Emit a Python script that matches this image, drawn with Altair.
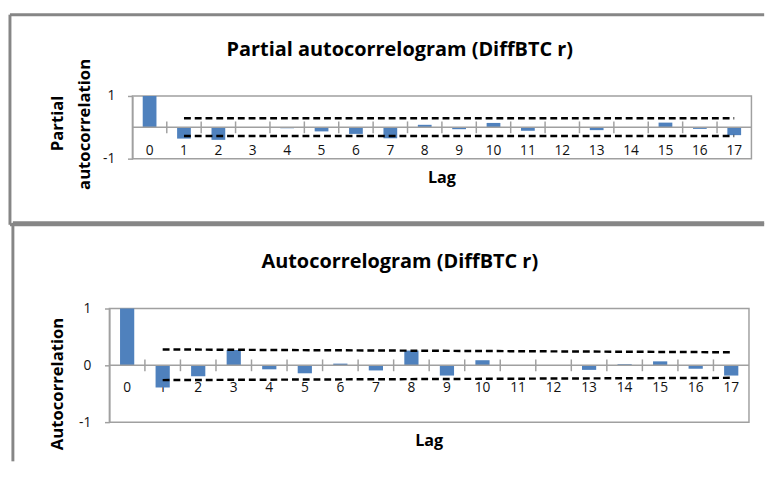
import altair as alt
import pandas as pd

# ---- data ----
lags = list(range(18))
pacf = [1.0, -0.36, -0.40, -0.01, -0.03, -0.13, -0.21, -0.35, 0.08, -0.06,
        0.14, -0.11, 0.0, -0.09, 0.005, 0.15, -0.05, -0.25]
acf = [1.0, -0.39, -0.19, 0.27, -0.07, -0.14, 0.03, -0.09, 0.26, -0.18,
       0.09, -0.005, 0.0, -0.08, 0.02, 0.07, -0.06, -0.18]
pacf_bound_lags = [1, 17]
pacf_upper = [0.29, 0.29]
pacf_lower = [-0.28, -0.28]
acf_bound_lags = [1, 17]
acf_upper = [0.28, 0.23]
acf_lower = [-0.26, -0.22]

top_title = "Partial autocorrelogram (DiffBTC r)"
top_ytitle = ["Partial", "autocorrelation"]
bottom_title = "Autocorrelogram (DiffBTC r)"
bottom_ytitle = ["Autocorrelation"]
x_title = "Lag"

FONT = "Open Sans"
BAR = "#4f81bd"
GRAY = "#a0a0a0"
FRAME = "#868686"


def one(text):
    return pd.DataFrame({"t": [text]})


def panel(values, b_lags, upper, lower, title, ytitles, ytitle_pos, W, H,
          x0, x1, yvals, x_offset, x_pad, y_pad, frame, title_x, lag_y):
    yscale = alt.Scale(domain=[-1, 1], nice=False, zero=True)
    xscale = alt.Scale(domain=lags, paddingInner=0, paddingOuter=0, range=[x0, x1])
    xaxis = alt.Axis(title="", orient="bottom", offset=x_offset, domain=False,
                     ticks=False, labelPadding=x_pad, labelAngle=0, labelFontSize=14,
                     labelFont=FONT, labelColor="#111", grid=False)
    yaxis = alt.Axis(title="", values=yvals, domain=True, domainColor=GRAY,
                     domainWidth=1.5, tickSize=5, tickColor=GRAY, tickWidth=1.5,
                     labelPadding=y_pad, grid=False, labelFontSize=14,
                     labelFont=FONT, labelColor="#111", offset=-x0,
                     labelExpr="'' + datum.value")
    X = alt.X("lag:O", scale=xscale, axis=xaxis)
    Y = alt.Y("value:Q", scale=yscale, axis=yaxis)

    # plot-area frame
    plot_frame = alt.Chart(one("p")).mark_rect(
        fillOpacity=0, stroke=GRAY, strokeWidth=1.5).encode(
        x=alt.value(x0), x2=alt.value(x1), y=alt.value(0), y2=alt.value(H))

    df = pd.DataFrame({"lag": lags, "value": values})
    bars = alt.Chart(df).mark_bar(color=BAR, width=alt.RelativeBandSize(0.4)).encode(x=X, y=Y)
    zero = alt.Chart(pd.DataFrame({"value": [0]})).mark_rule(
        color=GRAY, strokeWidth=1.5).encode(y=Y, x=alt.value(x0), x2=alt.value(x1))
    # category tick marks at the band boundaries, crossing the zero line
    ticks = alt.Chart(pd.DataFrame({"lag": lags[1:]})).mark_rule(
        color=GRAY, strokeWidth=1.5).encode(
        x=alt.X("lag:O", scale=xscale, axis=xaxis, bandPosition=0),
        y=alt.value(H / 2 - 6), y2=alt.value(H / 2 + 6))
    up = alt.Chart(pd.DataFrame({"lag": b_lags, "value": upper})).mark_line(
        color="black", strokeWidth=2.5, strokeDash=[7, 4]).encode(x=X, y=Y)
    lo = alt.Chart(pd.DataFrame({"lag": b_lags, "value": lower})).mark_line(
        color="black", strokeWidth=2.5, strokeDash=[7, 4]).encode(x=X, y=Y)

    layers = [plot_frame, bars, zero, ticks, up, lo]

    layers.append(alt.Chart(one(title)).mark_text(
        font=FONT, fontSize=20.3, fontWeight="bold", color="black",
        align="center", baseline="alphabetic").encode(
        text="t:N", x=alt.value(title_x), y=alt.value(-41)))
    for t, (px, py) in zip(ytitles, ytitle_pos):
        layers.append(alt.Chart(one(t)).mark_text(
            font=FONT, fontSize=17, fontWeight="bold", color="black", angle=270,
            align="center", baseline="middle").encode(
            text="t:N", x=alt.value(px), y=alt.value(py)))
    layers.append(alt.Chart(one(x_title)).mark_text(
        font=FONT, fontSize=16.5, fontWeight="bold", color="black",
        align="center", baseline="middle").encode(
        text="t:N", x=alt.value((x0 + x1) / 2), y=alt.value(lag_y)))

    # outer panel frame (open to the right, as in the cropped original)
    fl, ft, fr, fb, edges = frame
    segs = []
    if "top" in edges:
        segs.append((fl, fr, ft, ft))
    if "left" in edges:
        segs.append((fl, fl, ft, fb))
    if "bottom" in edges:
        segs.append((fl, fr, fb, fb))
    for a1, a2, b1, b2 in segs:
        layers.append(alt.Chart(one("f")).mark_rule(
            color=FRAME, strokeWidth=3).encode(
            x=alt.value(a1), x2=alt.value(a2), y=alt.value(b1), y2=alt.value(b2)))

    return alt.layer(*layers).properties(width=W, height=H)


top = panel(pacf, pacf_bound_lags, pacf_upper, pacf_lower, top_title,
            top_ytitle, [(-76, 28), (-48, 29)], 632, 64, 0, 632, [-1, 1],
            -38, 23, 13, (-125, -83, 645, 131.5, ("top", "left", "bottom")),
            273, 84)
bottom = panel(acf, acf_bound_lags, acf_upper, acf_lower, bottom_title,
               bottom_ytitle, [(-76, 77)], 630, 116, -23.5, 629.5, [-1, 0, 1],
               -64, 22, 14, (-122, -87.5, 645, 156, ("top", "left")),
               273, 135)

chart = alt.ConcatChart(
    concat=[top, bottom], columns=1, spacing=153, bounds="flush",
    padding={"left": 0, "top": 0, "right": 0, "bottom": 0},
).configure_view(strokeWidth=0, stroke="transparent")

chart.save("out.html", embed_options={"renderer": "svg", "actions": False})
